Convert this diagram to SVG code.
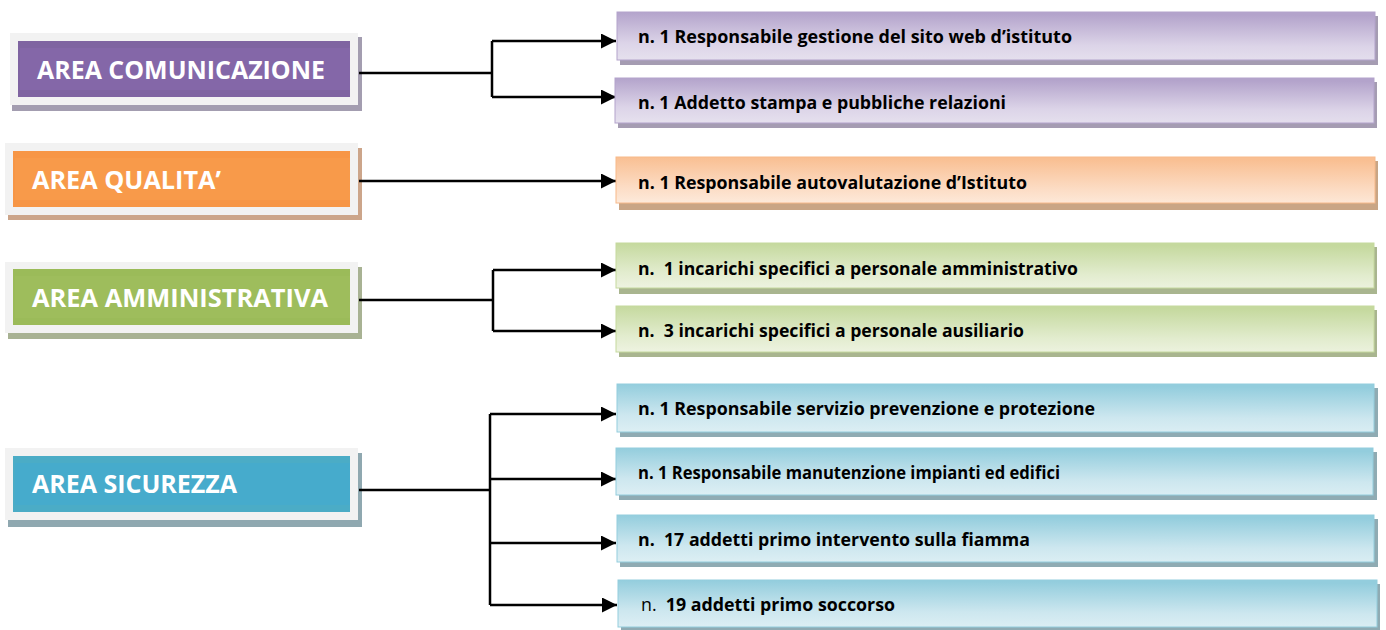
<svg xmlns="http://www.w3.org/2000/svg" width="1386" height="630" viewBox="0 0 1386 630">
<defs>
<linearGradient id="gP" x1="0" y1="1" x2="0.08" y2="0"><stop offset="0" stop-color="#e6e1ee"/><stop offset="0.35" stop-color="#dcd4e8"/><stop offset="1" stop-color="#b3a3cb"/></linearGradient>
<linearGradient id="gO" x1="0" y1="1" x2="0.08" y2="0"><stop offset="0" stop-color="#fdeadb"/><stop offset="0.35" stop-color="#fcdcc4"/><stop offset="1" stop-color="#f9bf92"/></linearGradient>
<linearGradient id="gG" x1="0" y1="1" x2="0.08" y2="0"><stop offset="0" stop-color="#eef3e1"/><stop offset="0.35" stop-color="#e2ecce"/><stop offset="1" stop-color="#c5d99e"/></linearGradient>
<linearGradient id="gB" x1="0" y1="1" x2="0.08" y2="0"><stop offset="0" stop-color="#ddeff4"/><stop offset="0.35" stop-color="#cde7ef"/><stop offset="1" stop-color="#93cddd"/></linearGradient>
<marker id="arr" viewBox="0 0 10 10" refX="10" refY="5" markerWidth="15" markerHeight="15" markerUnits="userSpaceOnUse" orient="auto"><path d="M0,0 L10,5 L0,10 z" fill="#000"/></marker>
</defs>
<style>
.frame{fill:#f2f2f2}
text{white-space:pre}
.lt{font-family:"Open Sans","Liberation Sans",sans-serif;font-weight:700;font-size:25px;fill:#fff}
.rt{font-family:"Open Sans","Liberation Sans",sans-serif;font-weight:700;font-size:17.5px;fill:#000}
.rn{font-weight:400}
.con{fill:none;stroke:#000;stroke-width:2.5}
.bP{fill:url(#gP);stroke:#b3a3cb;stroke-width:1}
.bO{fill:url(#gO);stroke:#f7b98a;stroke-width:1}
.bG{fill:url(#gG);stroke:#c5d99e;stroke-width:1}
.bB{fill:url(#gB);stroke:#93cddd;stroke-width:1}
</style>

<g id="area-comunicazione">
<rect x="12" y="37" width="350" height="74" fill="#a39db0"/>
<rect class="frame" x="10" y="33" width="348" height="72"/>
<rect x="18" y="41" width="332" height="56" fill="#7f64a1"/>
<rect x="20" y="48" width="330" height="42" fill="#8467a8"/>
<text class="lt" x="37" y="79" textLength="288" lengthAdjust="spacingAndGlyphs">AREA COMUNICAZIONE</text>
</g>
<g id="area-qualita">
<rect x="8" y="148" width="354" height="72" fill="#cca58a"/>
<rect class="frame" x="5" y="143" width="353" height="72"/>
<rect x="13" y="151" width="337" height="56" fill="#f79646"/>
<rect x="15" y="158" width="335" height="42" fill="#f89a4a"/>
<text class="lt" x="32" y="189" textLength="189" lengthAdjust="spacingAndGlyphs">AREA QUALITA’</text>
</g>
<g id="area-amministrativa">
<rect x="8" y="267" width="354" height="72" fill="#a8b293"/>
<rect class="frame" x="5" y="262" width="353" height="71"/>
<rect x="13" y="269" width="337" height="56" fill="#9bbb59"/>
<rect x="15" y="276" width="335" height="42" fill="#9ebd5c"/>
<text class="lt" x="32" y="307" textLength="296" lengthAdjust="spacingAndGlyphs">AREA AMMINISTRATIVA</text>
</g>
<g id="area-sicurezza">
<rect x="8" y="453" width="354" height="74" fill="#8fa8b0"/>
<rect class="frame" x="5" y="448" width="353" height="72"/>
<rect x="13" y="456" width="337" height="56" fill="#4bacc6"/>
<rect x="15" y="463" width="335" height="42" fill="#46abcc"/>
<text class="lt" x="32" y="493" textLength="205" lengthAdjust="spacingAndGlyphs">AREA SICUREZZA</text>
</g>

<g id="connectors">
<path class="con" d="M359,73 H492 M492,41 V97"/>
<path class="con" d="M492,41 H616" marker-end="url(#arr)"/>
<path class="con" d="M492,97 H616" marker-end="url(#arr)"/>
<path class="con" d="M359,181 H616" marker-end="url(#arr)"/>
<path class="con" d="M359,300 H493 M493,270 V331"/>
<path class="con" d="M493,270 H616" marker-end="url(#arr)"/>
<path class="con" d="M493,331 H616" marker-end="url(#arr)"/>
<path class="con" d="M359,490 H490 M490,414 V605"/>
<path class="con" d="M490,414 H616" marker-end="url(#arr)"/>
<path class="con" d="M490,479 H616" marker-end="url(#arr)"/>
<path class="con" d="M490,543 H616" marker-end="url(#arr)"/>
<path class="con" d="M490,605 H617" marker-end="url(#arr)"/>
</g>

<g id="r1"><rect x="620" y="16" width="758" height="49" fill="#a59cb2"/><rect class="bP" x="617" y="12" width="758" height="48"/><text class="rt" x="638" y="43" textLength="434" lengthAdjust="spacingAndGlyphs">n. 1 Responsabile gestione del sito web d’istituto</text></g>
<g id="r2"><rect x="618" y="82" width="759" height="46" fill="#a59cb2"/><rect class="bP" x="615" y="78" width="759" height="45"/><text class="rt" x="638" y="109" textLength="368" lengthAdjust="spacingAndGlyphs">n. 1 Addetto stampa e pubbliche relazioni</text></g>
<g id="r3"><rect x="619" y="161" width="759" height="49" fill="#c9a585"/><rect class="bO" x="616" y="157" width="759" height="46"/><text class="rt" x="638" y="189" textLength="389" lengthAdjust="spacingAndGlyphs">n. 1 Responsabile autovalutazione d’Istituto</text></g>
<g id="r4"><rect x="619" y="247" width="758" height="47" fill="#a9b58f"/><rect class="bG" x="616" y="243" width="758" height="45"/><text class="rt" x="638" y="275" textLength="440" lengthAdjust="spacingAndGlyphs">n.  1 incarichi specifici a personale amministrativo</text></g>
<g id="r5"><rect x="619" y="310" width="758" height="47" fill="#a9b58f"/><rect class="bG" x="616" y="306" width="758" height="46"/><text class="rt" x="638" y="337" textLength="386" lengthAdjust="spacingAndGlyphs">n.  3 incarichi specifici a personale ausiliario</text></g>
<g id="s1"><rect x="620" y="388" width="758" height="49" fill="#8fabb3"/><rect class="bB" x="617" y="384" width="757" height="48"/><text class="rt" x="638" y="415" textLength="457" lengthAdjust="spacingAndGlyphs">n. 1 Responsabile servizio prevenzione e protezione</text></g>
<g id="s2"><rect x="619" y="452" width="758" height="48" fill="#8fabb3"/><rect class="bB" x="616" y="448" width="757" height="47"/><text class="rt" x="638" y="479" textLength="422" lengthAdjust="spacingAndGlyphs">n. 1 Responsabile manutenzione impianti ed edifici</text></g>
<g id="s3"><rect x="620" y="519" width="758" height="48" fill="#8fabb3"/><rect class="bB" x="617" y="515" width="757" height="47"/><text class="rt" x="638" y="546" textLength="392" lengthAdjust="spacingAndGlyphs">n.  17 addetti primo intervento sulla fiamma</text></g>
<g id="s4"><rect x="621" y="584" width="759" height="47" fill="#8fabb3"/><rect class="bB" x="618" y="580" width="759" height="47"/><text class="rt" x="641" y="611" textLength="254" lengthAdjust="spacingAndGlyphs"><tspan class="rn">n.</tspan>  19 addetti primo soccorso</text></g>
</svg>
